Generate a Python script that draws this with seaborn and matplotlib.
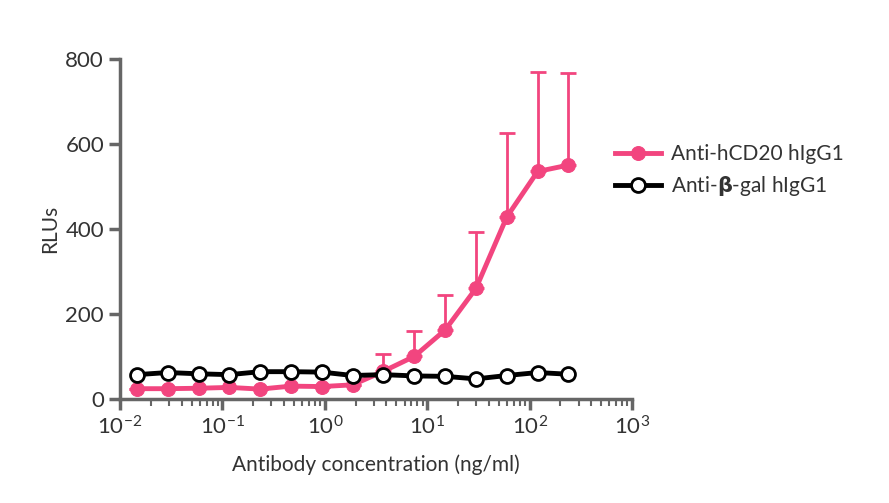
import numpy as np
import pandas as pd
import matplotlib
matplotlib.use("Agg")
import matplotlib.pyplot as plt
import seaborn as sns
from matplotlib.ticker import LogLocator, NullFormatter

# 2-fold dilution series (ng/ml)
conc = [0.0146 * 2 ** i for i in range(15)]
cd20 = [24, 24, 25, 27, 23, 30, 29, 33, 65, 100, 162, 260, 428, 535, 550]
cd20_err = [0, 0, 0, 0, 0, 0, 0, 0, 41, 60, 83, 132, 197, 233, 216]
bgal = [57, 62, 59, 57, 64, 64, 63, 55, 57, 54, 53, 47, 55, 62, 58]

pink = "#f2457f"
grey = "#666666"
plt.rcParams["font.family"] = "Lato"

df = pd.DataFrame({
    "conc": conc * 2,
    "rlu": cd20 + bgal,
    "series": ["Anti-hCD20 hIgG1"] * 15 + ["Anti-$\\mathbf{\\beta}$-gal hIgG1"] * 15,
})

fig = plt.figure(figsize=(8.89, 5.03), dpi=100)
ax = fig.add_axes([0.135, 0.207, 0.576, 0.676])

ax.errorbar(conc, cd20, yerr=[np.zeros(15), cd20_err], fmt="none",
            ecolor=pink, elinewidth=2, capsize=6, capthick=2, zorder=2)
sns.lineplot(data=df[df.series == "Anti-hCD20 hIgG1"], x="conc", y="rlu",
             color=pink, lw=3.5, marker="o", markersize=10, markeredgecolor=pink,
             label="Anti-hCD20 hIgG1", ax=ax, zorder=3)
sns.lineplot(data=df[df.series != "Anti-hCD20 hIgG1"], x="conc", y="rlu",
             color="black", lw=3.5, marker="o", markersize=10, markerfacecolor="white",
             markeredgecolor="black", markeredgewidth=2,
             label="Anti-$\\mathbf{\\beta}$-gal hIgG1", ax=ax, zorder=4)

ax.set_xscale("log")
ax.set_xlim(1e-2, 1e3)
ax.set_ylim(0, 800)
ax.set_yticks([0, 200, 400, 600, 800])
ax.xaxis.set_minor_locator(LogLocator(base=10, subs=np.arange(2, 10), numticks=20))
ax.xaxis.set_minor_formatter(NullFormatter())
for s in ["top", "right"]:
    ax.spines[s].set_visible(False)
for s in ["left", "bottom"]:
    ax.spines[s].set_color(grey)
    ax.spines[s].set_linewidth(2.5)
ax.tick_params(which="major", length=8, width=2.5, color=grey, labelsize=16, labelcolor="#333333")
ax.tick_params(which="minor", length=5, width=1.5, color=grey)
ax.set_xlabel("Antibody concentration (ng/ml)", fontsize=15, color="#333333", labelpad=12)
ax.set_ylabel("RLUs", fontsize=15, color="#333333")

ax.legend(loc="center left", bbox_to_anchor=(0.93, 0.67), frameon=False,
          fontsize=15, handlelength=2.2, handletextpad=0.5, labelcolor="#333333")

fig.savefig("out.png", dpi=100)
